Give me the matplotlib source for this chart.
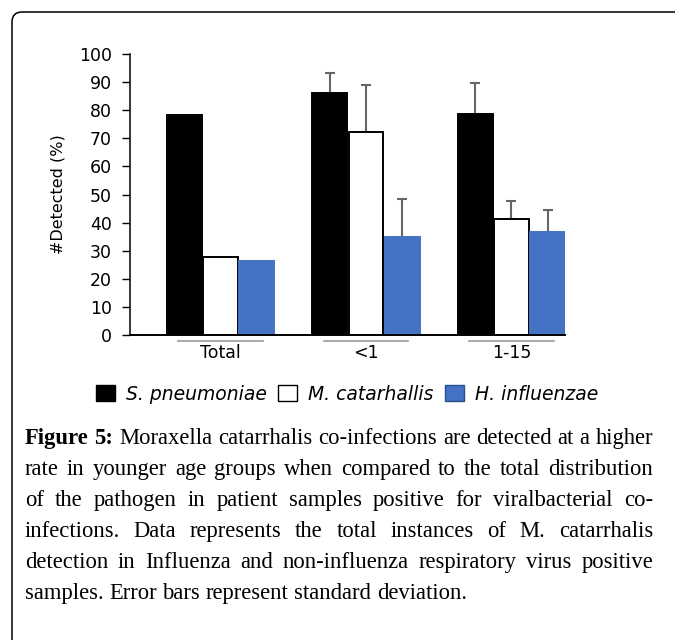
import numpy as np
import matplotlib
matplotlib.use("Agg")
import matplotlib.pyplot as plt
from matplotlib.patches import FancyBboxPatch, Patch
from matplotlib.transforms import blended_transform_factory

# data
groups = ["Total", "<1", "1-15"]
series = ["S. pneumoniae", "M. catarhallis", "H. influenzae"]
s_pneumoniae = [78.3, 86.0, 78.6]
m_catarhallis = [27.8, 72.1, 41.3]
h_influenzae = [26.3, 34.8, 36.8]
sd_s_pneumoniae = [0, 7.3, 11.2]
sd_m_catarhallis = [0, 17.0, 6.4]
sd_h_influenzae = [0, 13.5, 7.7]
yticks = list(range(0, 101, 10))

caption_lines = [
    "Figure 5: Moraxella catarrhalis co-infections are detected at a higher",
    "rate in younger age groups when compared to the total distribution",
    "of the pathogen in patient samples positive for viralbacterial co-",
    "infections. Data represents the total instances of M. catarrhalis",
    "detection in Influenza and non-influenza respiratory virus positive",
    "samples. Error bars represent standard deviation.",
]

W, H = 675, 640
fig = plt.figure(figsize=(W / 100, H / 100), dpi=100)
plt.rcParams['font.family'] = ['DejaVu Sans']

# rounded frame around the whole panel
frame = FancyBboxPatch((0.12, -1.0), 8.0, 6.28 + 1.0,
                       boxstyle="round,pad=0,rounding_size=0.1",
                       transform=fig.dpi_scale_trans, fill=False,
                       edgecolor="black", linewidth=1.1)
fig.patches.append(frame)

ax = fig.add_axes([130 / W, 1 - 335 / H, 435 / W, 281 / H])

x = np.arange(len(groups))
width = 0.24
off = 0.25
vals = [s_pneumoniae, m_catarhallis, h_influenzae]
sds = [sd_s_pneumoniae, sd_m_catarhallis, sd_h_influenzae]
faces = ["black", "white", "#4472C4"]
edges = ["black", "black", "#4472C4"]

for i in range(3):
    xs = x + (i - 1) * off
    ax.bar(xs, vals[i], width, color=faces[i], edgecolor=edges[i],
           linewidth=1.4, zorder=2)
    sd = np.array(sds[i])
    m = sd > 0
    ax.errorbar(xs[m], np.array(vals[i])[m], yerr=[np.zeros(m.sum()), sd[m]],
                fmt="none", ecolor="#666666", elinewidth=1.5, capsize=3.5,
                capthick=1.5, zorder=1)

ax.set_xlim(-0.622, 2.368)
ax.set_ylim(0, 100)
ax.set_yticks(yticks)
ax.tick_params(axis="y", labelsize=12.5, length=6, width=1, pad=7)
ax.set_xticks([])
for s in ["top", "right"]:
    ax.spines[s].set_visible(False)
ax.spines["left"].set_linewidth(1.1)
ax.spines["bottom"].set_linewidth(1.4)
ax.set_ylabel("#Detected (%)", fontsize=11.5, labelpad=10)

# group underlines and labels
tr = blended_transform_factory(ax.transData, ax.transAxes)
for xi, g in zip(x, groups):
    ax.plot([xi - 0.29, xi + 0.29], [-0.022, -0.022], color="#999999",
            linewidth=1.2, transform=tr, clip_on=False)
    ax.text(xi, -0.032, g, transform=tr, ha="center", va="top", fontsize=12.5)

# legend
handles = [Patch(facecolor=f, edgecolor="black" if i < 2 else "#2a4f8f", linewidth=1)
           for i, f in enumerate(faces)]
fig.legend(handles, series, loc="center", bbox_to_anchor=(347 / W, 1 - 394 / H),
           ncol=3, frameon=False, prop={"style": "italic", "size": 13.5},
           handlelength=1.0, handleheight=1.0, handletextpad=0.6,
           columnspacing=0.6)

# justified caption
serif = "Liberation Serif"
left_px, right_px = 25, 653
fig.canvas.draw()
renderer = fig.canvas.get_renderer()


def word_width(w, size, weight):
    t = fig.text(0, 0, w, fontsize=size, family=serif, weight=weight)
    bb = t.get_window_extent(renderer)
    t.remove()
    return bb.width


def natural_width(li, size):
    words = caption_lines[li].split(" ")
    wts = ["bold" if (li == 0 and k < 2) else "normal" for k in range(len(words))]
    sp = word_width("a a", size, "normal") - 2 * word_width("a", size, "normal")
    return sum(word_width(w, size, wt) for w, wt in zip(words, wts)) + sp * (len(words) - 1)


base = max(natural_width(li, 10) for li in range(len(caption_lines) - 1))
size = 10 * (right_px - left_px) / base

y0 = 444
for li, line in enumerate(caption_lines):
    words = line.split(" ")
    weights = ["normal"] * len(words)
    if li == 0:
        weights[0] = weights[1] = "bold"
    widths = [word_width(w, size, wt) for w, wt in zip(words, weights)]
    space = word_width("a a", size, "normal") - 2 * word_width("a", size, "normal")
    if li < len(caption_lines) - 1 and len(words) > 1:
        space = (right_px - left_px - sum(widths)) / (len(words) - 1)
    xp = left_px
    yp = y0 + li * 31
    for w, wt, ww in zip(words, weights, widths):
        fig.text(xp / W, 1 - yp / H, w, fontsize=size, family=serif,
                 weight=wt, va="baseline", ha="left")
        xp += ww + space

fig.savefig("out.png", dpi=100)
